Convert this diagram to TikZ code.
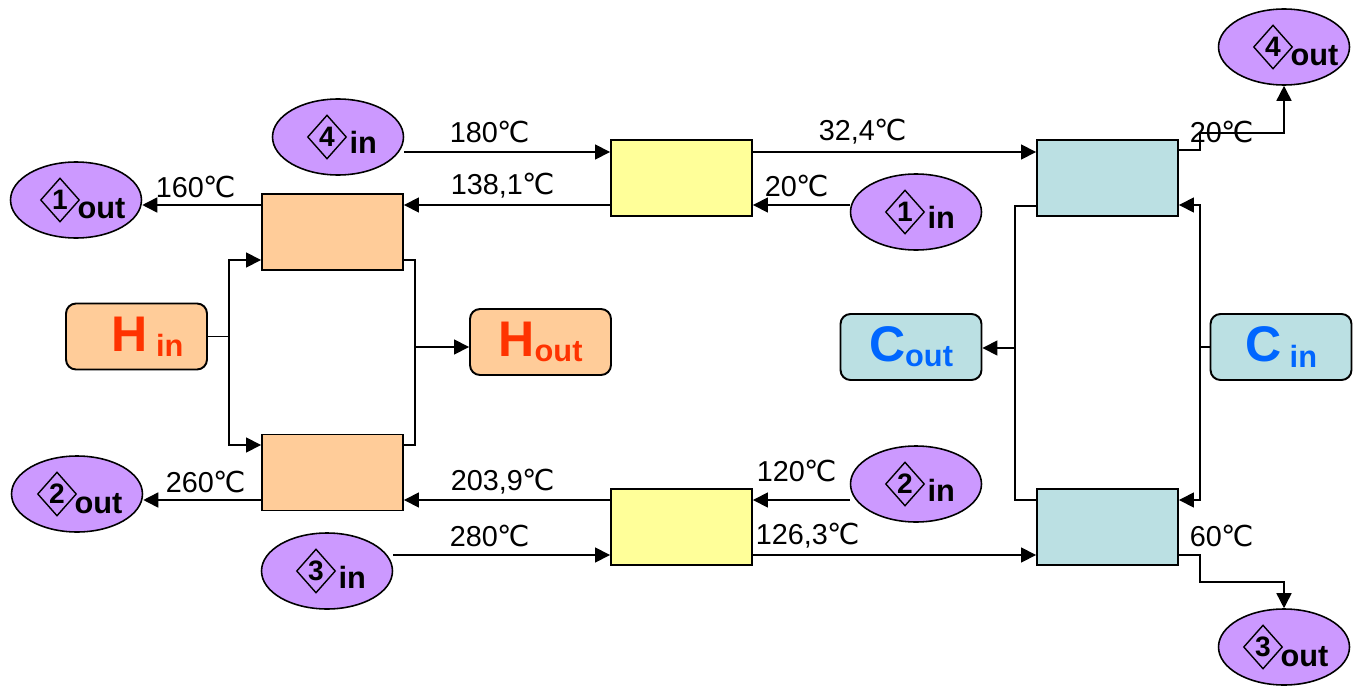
\documentclass[tikz,border=0pt]{standalone}
\usepackage{fontspec}
\setmainfont{Liberation Sans}
\newfontfamily\degfont{DejaVu Sans}
\usetikzlibrary{arrows.meta,shapes.geometric}
\definecolor{strmfill}{HTML}{CC99FF}
\definecolor{hotfill}{HTML}{FFCC99}
\definecolor{midfill}{HTML}{FFFF99}
\definecolor{coldfill}{HTML}{BBE0E3}
\definecolor{hottext}{HTML}{FF3300}
\definecolor{coldtext}{HTML}{0066FF}
\newcommand{\dC}{{\degfont\char"2103}}
\newcommand{\portname}[2]{{\fontsize{28.5}{28.5}\selectfont\bfseries #1}\raisebox{-3pt}{\fontsize{17.5}{17.5}\selectfont\bfseries #2}}
\newcommand{\strmnode}[6]{%
  \node[strm] (#1) at (#2) {};
  \node[tag] (#1n) at ([#5]#1.center) {#3};
  \node[subtxt] (#1s) at ([#6]#1n.east |- #1.center) {#4};}
\tikzset{
  flow/.style={-{Triangle[length=.3cm,width=.3cm]},line width=.9pt},
  pipe/.style={line width=.9pt},
  hx/.style={draw,line width=1.1pt,minimum width=2.82cm,minimum height=1.52cm,inner sep=0},
  port/.style={draw,line width=1.1pt,rounded corners=.2cm,minimum width=2.82cm,minimum height=1.32cm,inner sep=0},
  strm/.style={ellipse,draw,line width=.9pt,fill=strmfill,minimum width=2.62cm,minimum height=1.52cm,inner sep=0},
  tag/.style={diamond,draw,line width=.8pt,inner sep=0,minimum width=.78cm,minimum height=.88cm,font=\fontsize{16}{16}\selectfont\bfseries},
  subtxt/.style={inner sep=0,anchor=base west,font=\fontsize{17.5}{17.5}\selectfont\bfseries},
  temp/.style={inner sep=0,font=\fontsize{16.4}{18}\selectfont},
}
\begin{document}
\begin{tikzpicture}[x=.02cm,y=-.02cm]
  \useasboundingbox (0,0) rectangle (1362,686);
  \node[hx,fill=hotfill] (hx1) at (332.5,232) {};
  \node[hx,fill=hotfill] (hx2) at (332.5,472.5) {};
  \node[hx,fill=midfill] (y1) at (681.5,178) {};
  \node[hx,fill=midfill] (y2) at (681.5,527) {};
  \node[hx,fill=coldfill] (t1) at (1107.5,178) {};
  \node[hx,fill=coldfill] (t2) at (1107.5,527) {};
  \node[port,fill=hotfill,text=hottext] (hin) at (136.5,336.5) {\hspace*{.44cm}\portname{H}{\ in}};
  \node[port,fill=hotfill,text=hottext] (hout) at (540.5,342) {\portname{H}{out}};
  \node[port,fill=coldfill,text=coldtext] (cout) at (911,347) {\portname{C}{out}};
  \node[port,fill=coldfill,text=coldtext] (cin) at (1281,347) {\portname{C}{\ in}};
  \strmnode{in4}{338,137}{4}{in}{xshift=-.22cm}{xshift=.04cm,yshift=-.34cm}
  \strmnode{in1}{916,212}{1}{in}{xshift=-.22cm}{xshift=.04cm,yshift=-.34cm}
  \strmnode{in2}{916,484}{2}{in}{xshift=-.22cm}{xshift=.04cm,yshift=-.34cm}
  \strmnode{in3}{327,571}{3}{in}{xshift=-.22cm}{xshift=.04cm,yshift=-.34cm}
  \strmnode{out1}{76,200}{1}{out}{xshift=-.32cm}{xshift=-.06cm,yshift=-.38cm}
  \strmnode{out2}{77,494}{2}{out}{xshift=-.4cm}{xshift=-.06cm,yshift=-.38cm}
  \strmnode{out4}{1284,47}{4}{out}{xshift=-.22cm}{xshift=-.06cm,yshift=-.38cm}
  \strmnode{out3}{1284,647}{3}{out}{xshift=-.42cm}{xshift=-.06cm,yshift=-.38cm}
  \coordinate (hsplit) at (229,336.5);
  \coordinate (hmerge) at (415,347);
  \coordinate (csplit) at (1200,347);
  \coordinate (cmerge) at (1015,348);
  \draw[flow] (in4.east |- 0,152) -- (y1.west |- 0,152);
  \draw[flow] (y1.east |- 0,152) -- (t1.west |- 0,152);
  \draw[flow] (t1.east |- 0,150) -| (csplit |- 0,133) -| (out4.south);
  \draw[flow] (in1.west |- 0,205) -- (y1.east |- 0,205);
  \draw[flow] (y1.west |- 0,205) -- (hx1.east |- 0,205);
  \draw[flow] (hx1.west |- 0,205) -- (out1.east |- 0,205);
  \draw[pipe] (hin.east) -- (hsplit);
  \draw[flow] (hsplit) |- (hx1.west |- 0,260);
  \draw[flow] (hsplit) |- (hx2.west |- 0,445);
  \draw[pipe] (hx1.east |- 0,260) -| (hmerge) |- (hx2.east |- 0,445);
  \draw[flow] (hmerge) -- (hout.west |- hmerge);
  \draw[flow] (hx2.west |- 0,500) -- (out2.east |- 0,500);
  \draw[flow] (y2.west |- 0,500) -- (hx2.east |- 0,500);
  \draw[flow] (in2.west |- 0,500) -- (y2.east |- 0,500);
  \draw[flow] (in3.east |- 0,555) -- (y2.west |- 0,555);
  \draw[flow] (y2.east |- 0,555) -- (t2.west |- 0,555);
  \draw[flow] (t2.east |- 0,555) -| (csplit |- 0,582) -| (out3.north);
  \draw[pipe] (cin.west) -- (csplit);
  \draw[flow] (csplit) |- (t1.east |- 0,205);
  \draw[flow] (csplit) |- (t2.east |- 0,500);
  \draw[pipe] (t1.west |- 0,206) -| (cmerge) |- (t2.west |- 0,500);
  \draw[flow] (cmerge) -- (cout.east |- cmerge);
  \node[temp] (l180) at (490,132) {180\dC};
  \node[temp] (l324) at (863,132) {32,4\dC};
  \node[temp] (l20a) at (1222,132) {20\dC};
  \node[temp] (l160) at (196,187) {160\dC};
  \node[temp] (l1381) at (503,186) {138,1\dC};
  \node[temp] (l20b) at (797,186) {20\dC};
  \node[temp] (l260) at (206,482) {260\dC};
  \node[temp] (l2039) at (503,482) {203,9\dC};
  \node[temp] (l120) at (797,471) {120\dC};
  \node[temp] (l280) at (490,536) {280\dC};
  \node[temp] (l1263) at (808,536) {126,3\dC};
  \node[temp] (l60) at (1222,536) {60\dC};
\end{tikzpicture}
\end{document}
